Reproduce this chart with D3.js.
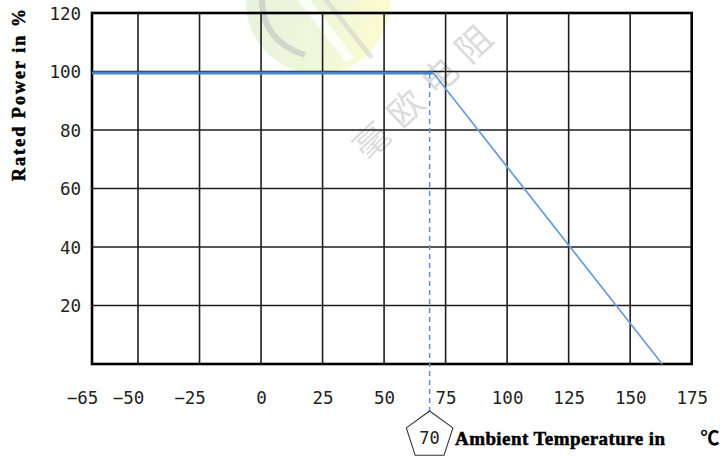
<!DOCTYPE html>
<html><head><meta charset="utf-8">
<script src="https://cdn.jsdelivr.net/npm/d3@7/dist/d3.min.js"></script>
<style>
html,body{margin:0;padding:0;background:#fff;}
svg{display:block;}
</style></head>
<body>
<svg id="chart" width="723" height="457"></svg>
<script>
// ---- data ----
const xTickValues = [-65, -50, -25, 0, 25, 50, 75, 100, 125, 150, 175];
const xGridValues = [-50, -25, 0, 25, 50, 75, 100, 125, 150];
const yTickValues = [20, 40, 60, 80, 100, 120];
const yGridValues = [20, 40, 60, 80, 100];
const temps = [-65, 70, 163];
const powerPct = [99.5, 99.5, 0];
const markerTemp = 68.5;
const markerLabel = "70";
const xTitle = "Ambient Temperature in";
const xTitleUnit = "\u2103";
const yTitle = "Rated Power in %";
const watermark = "毫欧电阻";

// ---- setup ----
const svg = d3.select("#chart");
const pL = 92, pR = 691.7, pT = 13, pB = 364;
const x = d3.scaleLinear().domain([-65, -50, 175]).range([pL, 138, pR]);
const y = d3.scaleLinear().domain([0, 120]).range([pB, pT]);

// ---- watermark logo (faint) ----
const defs = svg.append("defs");
const lg = defs.append("linearGradient").attr("id","lg").attr("x1","0").attr("y1","0").attr("x2","1").attr("y2","0.3");
lg.append("stop").attr("offset","0").attr("stop-color","#8cc86e").attr("stop-opacity",0.22);
lg.append("stop").attr("offset","0.7").attr("stop-color","#c8e27a").attr("stop-opacity",0.28);
lg.append("stop").attr("offset","1").attr("stop-color","#f2f27a").attr("stop-opacity",0.35);
const logo = svg.append("g");
logo.append("circle").attr("cx",318).attr("cy",2).attr("r",72).attr("fill","url(#lg)");
logo.append("path").attr("d","M262,-10 Q258,40 305,55").attr("fill","none").attr("stroke","#bdbdbd").attr("stroke-opacity",0.55).attr("stroke-width",6);
logo.append("path").attr("d","M300,-5 L350,60").attr("fill","none").attr("stroke","#ffffff").attr("stroke-opacity",0.8).attr("stroke-width",10);
logo.append("path").attr("d","M322,-5 L372,58").attr("fill","none").attr("stroke","#c8c8c8").attr("stroke-opacity",0.45).attr("stroke-width",5);

svg.append("text")
  .attr("transform","translate(425,86) rotate(-43.5)")
  .attr("text-anchor","middle").attr("dominant-baseline","central")
  .attr("font-family","'Noto Sans CJK SC'").attr("font-size",35).attr("font-weight",400)
  .attr("letter-spacing",12)
  .attr("fill","#cfcfcf").attr("fill-opacity",0.75)
  .text(watermark);

// ---- grid ----
const grid = svg.append("g").attr("stroke","#1e1e1e").attr("stroke-width",1.6);
grid.selectAll("line.v").data(xGridValues).join("line").attr("class","v")
  .attr("x1", d => x(d)).attr("x2", d => x(d)).attr("y1", pT).attr("y2", pB);
grid.selectAll("line.h").data(yGridValues).join("line").attr("class","h")
  .attr("y1", d => y(d)).attr("y2", d => y(d)).attr("x1", pL).attr("x2", pR);

// ---- border ----
svg.append("rect").attr("x",pL).attr("y",pT).attr("width",pR-pL).attr("height",pB-pT)
  .attr("fill","none").attr("stroke","#000").attr("stroke-width",2.6);

// ---- axes labels ----
const xAxis = d3.axisBottom(x).tickValues(xTickValues).tickSize(0).tickPadding(0).tickFormat(d => d < 0 ? "\u2212" + Math.abs(d) : String(d));
const gx = svg.append("g").attr("transform",`translate(0,${pB})`).call(xAxis);
gx.select(".domain").remove();
gx.selectAll("text").attr("y", 40).attr("dy", 0)
  .attr("dx", d => d < 0 ? -10 : 0)
  .attr("font-family","'DejaVu Sans Mono'").attr("font-size",17.5).attr("fill","#222");

const yAxis = d3.axisLeft(y).tickValues(yTickValues).tickSize(0).tickPadding(0);
const gy = svg.append("g").attr("transform",`translate(${pL},0)`).call(yAxis);
gy.select(".domain").remove();
gy.selectAll("text").attr("x", -11).attr("dy","0.36em")
  .attr("font-family","'DejaVu Sans Mono'").attr("font-size",17.5).attr("fill","#222");

// ---- derating curve ----
const pts = temps.map((t,i) => [t, powerPct[i]]);
const line = d3.line().x(d => x(d[0])).y(d => y(d[1]));
svg.append("path").attr("d", line(pts.slice(0,2))).attr("fill","none")
  .attr("stroke","#4b82c8").attr("stroke-width",3);
svg.append("path").attr("d", line(pts.slice(1))).attr("fill","none")
  .attr("stroke","#6d9fd9").attr("stroke-width",1.8);

// ---- marker ----
const mx = x(markerTemp);
const R = 24.5, cy = 435.5;
svg.append("line").attr("x1",mx).attr("x2",mx).attr("y1",y(powerPct[1])+1).attr("y2",cy - R)
  .attr("stroke","#5a8fd0").attr("stroke-width",1.5).attr("stroke-dasharray","5,4");
const pent = d3.range(5).map(i => {
  const a = -Math.PI/2 + i*2*Math.PI/5;
  return [mx + R*Math.cos(a), cy + R*Math.sin(a)];
});
svg.append("polygon").attr("points", pent.map(p => p.join(",")).join(" "))
  .attr("fill","#fff").attr("stroke","#333").attr("stroke-width",1.1);
svg.append("text").attr("x",mx).attr("y",cy+2).attr("text-anchor","middle").attr("dominant-baseline","central")
  .attr("font-family","'DejaVu Sans Mono'").attr("font-size",17).attr("fill","#222").text(markerLabel);

// ---- titles ----
svg.append("text").attr("x",455).attr("y",445)
  .attr("font-family","'Liberation Serif'").attr("font-weight","bold").attr("font-size",19)
  .attr("fill","#000").attr("stroke","#000").attr("stroke-width",0.5)
  .attr("textLength",210).attr("lengthAdjust","spacing")
  .text(xTitle);
svg.append("text").attr("x",710).attr("y",445).attr("text-anchor","middle")
  .attr("font-family","'Noto Sans CJK SC'").attr("font-weight","bold").attr("font-size",19)
  .attr("fill","#000")
  .text(xTitleUnit);
svg.append("text").attr("transform","translate(25,95) rotate(-90)").attr("text-anchor","middle")
  .attr("font-family","'Liberation Serif'").attr("font-weight","bold").attr("font-size",18)
  .attr("fill","#000").attr("stroke","#000").attr("stroke-width",0.5)
  .attr("textLength",172).attr("lengthAdjust","spacing")
  .text(yTitle);
</script>
</body></html>
